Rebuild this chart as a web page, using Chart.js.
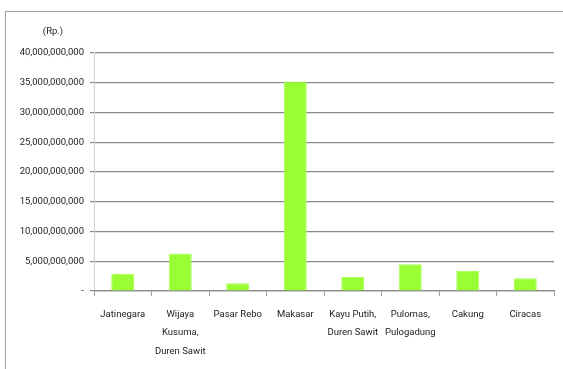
<!DOCTYPE html>
<html>
<head>
<meta charset="utf-8">
<script src="https://cdn.jsdelivr.net/npm/chart.js@4.4.1/dist/chart.umd.min.js"></script>
<style>
  html, body { margin: 0; padding: 0; background: #fff; }
  #wrap { position: relative; width: 563px; height: 369px; overflow: hidden; }
  #frame { position: absolute; left: 5px; top: 11px; width: 600px; height: 400px;
           border-top: 1px solid #a0a0a0; border-left: 1px solid #a0a0a0; }
  canvas { position: absolute; left: 0; top: 0; }
</style>
</head>
<body>
<div id="wrap">
  <div id="frame"></div>
  <canvas id="rpChart" width="563" height="369"></canvas>
</div>
<script>
// districts on the x axis (multi-line labels)
var districts = [
    'Jatinegara',
    ['Wijaya', 'Kusuma,', 'Duren Sawit'],
    'Pasar Rebo',
    'Makasar',
    ['Kayu Putih,', 'Duren Sawit'],
    ['Pulomas,', 'Pulogadung'],
    'Cakung',
    'Ciracas'
];
// amounts in rupiah
var amounts = [2900000000, 6300000000, 1300000000, 35200000000, 2350000000, 4500000000, 3350000000, 2150000000];
var yTicks = [0, 5000000000, 10000000000, 15000000000, 20000000000, 25000000000, 30000000000, 35000000000, 40000000000];

var fontFamily = 'Roboto, sans-serif';
var fontSize = 9.5;

// draws the "(Rp.)" unit label above the y axis labels
var unitLabel = {
    id: 'unitLabel',
    afterDraw: function(chart) {
        var ctx = chart.ctx;
        ctx.save();
        ctx.font = fontSize + 'px ' + fontFamily;
        ctx.fillStyle = '#222';
        ctx.textAlign = 'center';
        ctx.textBaseline = 'middle';
        ctx.fillText('(Rp.)', 53, 32);
        ctx.restore();
    }
};

var ctx = document.getElementById('rpChart').getContext('2d');
var chart = new Chart(ctx, {
    type: 'bar',
    data: {
        labels: districts,
        datasets: [{
            data: amounts,
            backgroundColor: '#99ff33',
            borderColor: '#a8ff55',
            borderWidth: 1,
            categoryPercentage: 1,
            barPercentage: 0.4
        }]
    },
    options: {
        responsive: false,
        animation: false,
        layout: { padding: { top: 53, right: 9, left: 0, bottom: 0 } },
        plugins: {
            legend: { display: false },
            tooltip: { enabled: false }
        },
        scales: {
            y: {
                min: 0,
                max: 40000000000,
                afterFit: function(scale) { scale.width = 94; },
                afterBuildTicks: function(scale) {
                    scale.ticks = yTicks.map(function(v) { return { value: v }; });
                },
                grid: {
                    color: '#8a8a8a',
                    lineWidth: 1.2,
                    tickLength: 4
                },
                border: { color: '#d0d0d0', width: 1 },
                ticks: {
                    color: '#222',
                    padding: 6,
                    font: { family: fontFamily, size: fontSize },
                    callback: function(value) {
                        return value === 0 ? '-' : value.toLocaleString('en-US');
                    }
                }
            },
            x: {
                afterFit: function(scale) { scale.height = 78; },
                grid: {
                    drawOnChartArea: false,
                    color: '#a0a0a0',
                    tickLength: 5
                },
                border: { color: '#8a8a8a', width: 1.2 },
                ticks: {
                    color: '#222',
                    padding: 9,
                    maxRotation: 0,
                    autoSkip: false,
                    font: { family: fontFamily, size: fontSize, lineHeight: 1.95 }
                }
            }
        }
    },
    plugins: [unitLabel]
});
</script>
</body>
</html>
